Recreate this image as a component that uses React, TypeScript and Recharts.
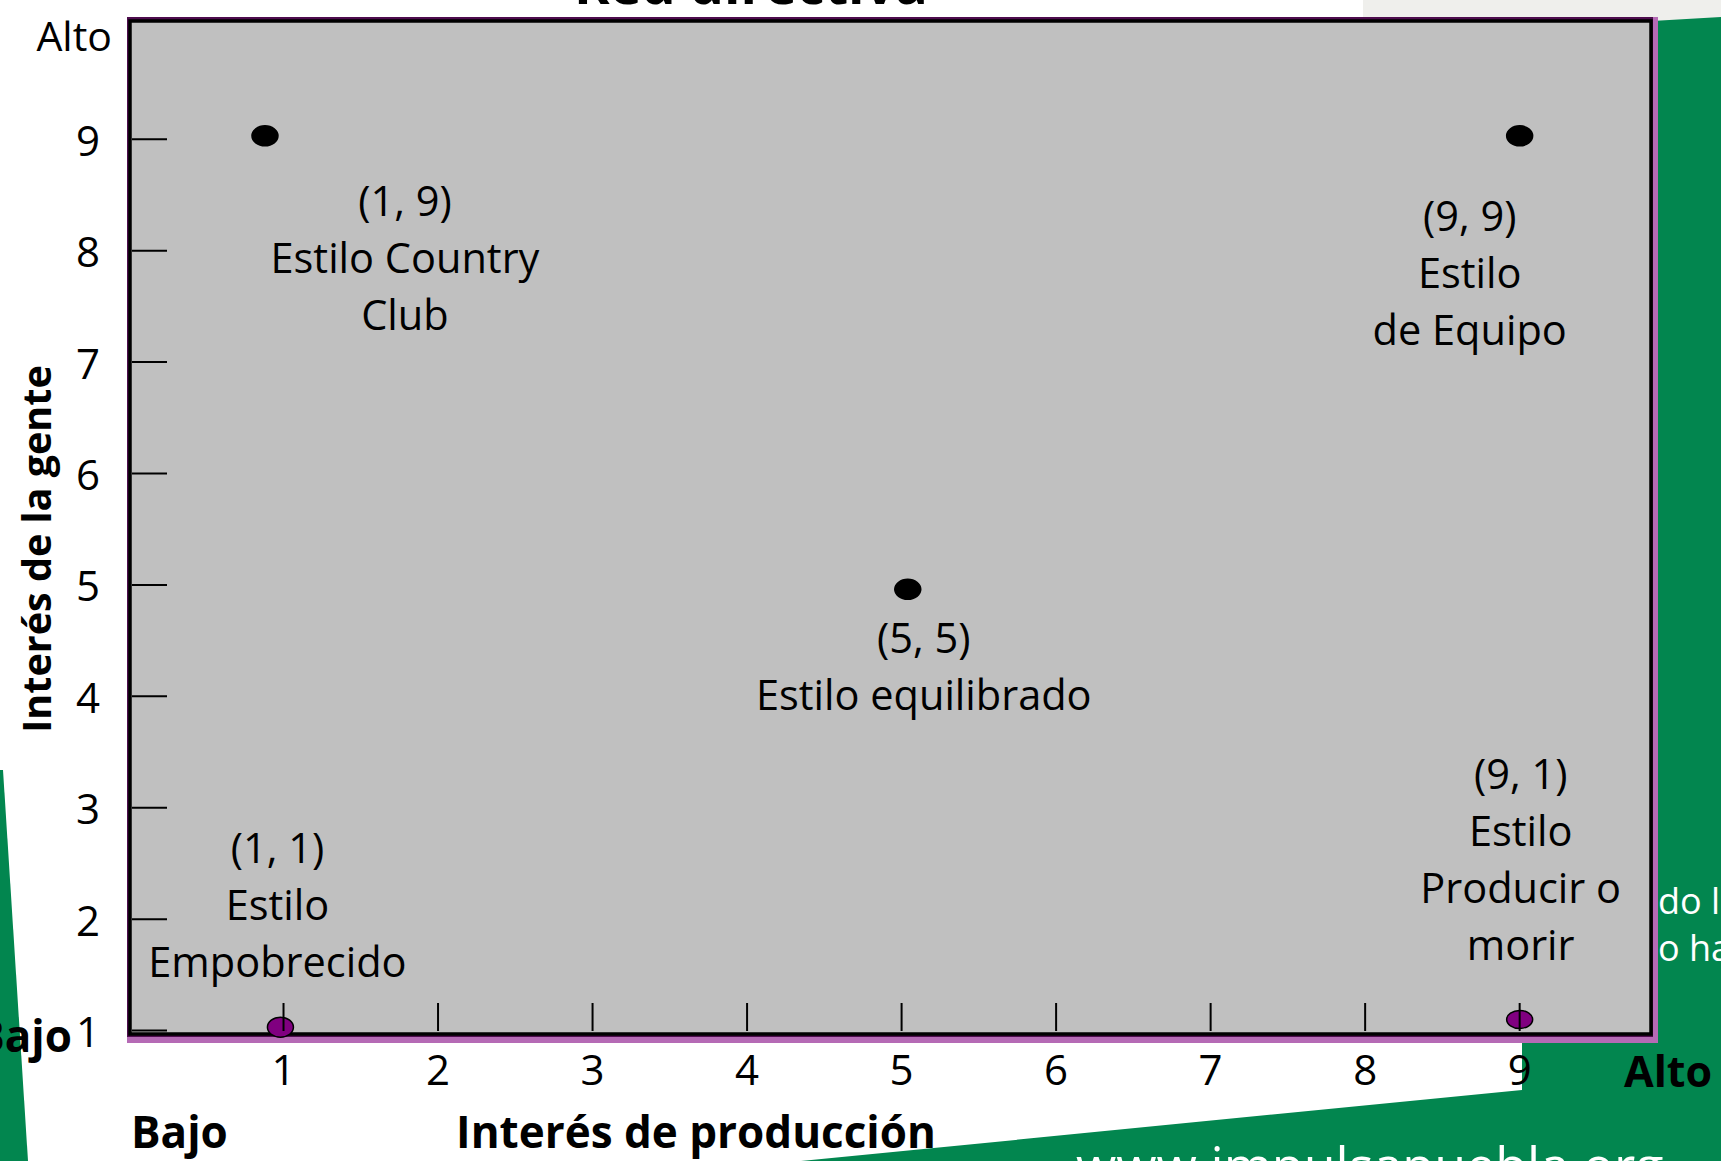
import React from 'react';
import { ScatterChart, Scatter, XAxis, YAxis } from 'recharts';

// estilos de la rejilla gerencial
const estilos = ['Country Club', 'Equipo', 'Equilibrado', 'Empobrecido', 'Producir o morir'];
const interesProduccion = [0.88, 9.0, 5.04, 0.98, 9.0];
const interesGente = [9.03, 9.03, 4.96, 1.03, 1.1];
const etiquetas = [
  ['(1, 9)', 'Estilo Country', 'Club'],
  ['(9, 9)', 'Estilo', 'de Equipo'],
  ['(5, 5)', 'Estilo equilibrado'],
  ['(1, 1)', 'Estilo', 'Empobrecido'],
  ['(9, 1)', 'Estilo', 'Producir o', 'morir'],
];

const xTicks = [1, 2, 3, 4, 5, 6, 7, 8, 9];
const yTicks = [1, 2, 3, 4, 5, 6, 7, 8, 9, 10];
const yTickLabels = ['1', '2', '3', '4', '5', '6', '7', '8', '9', 'Alto'];

// estilo / posicion de etiquetas (no son datos)
const pointFill = ['#000', '#000', '#000', '#800080', '#800080'];
const pointRy = [10, 10, 10, 10, 9];
const labelOffset: Record<string, [number, number]> = {
  'Country Club': [140, 64],
  Equipo: [-50, 79],
  Equilibrado: [16, 48],
  Empobrecido: [-3, -180],
  'Producir o morir': [1, -246],
};

const FONT = "'Open Sans', 'DejaVu Sans', sans-serif";
const GREEN = '#02864f';

const data = estilos.map((name, i) => ({
  name,
  x: interesProduccion[i],
  y: interesGente[i],
  lines: etiquetas[i],
  idx: i,
}));

const PointShape = (props: any) => {
  const { cx, cy, payload } = props;
  const i = payload.idx;
  const [dx, dy] = labelOffset[payload.name];
  return (
    <g>
      <ellipse cx={cx} cy={cy} rx={13} ry={pointRy[i]} fill={pointFill[i]} stroke="#000" strokeWidth={1.5} />
      {payload.lines.map((t: string, k: number) => (
        <text
          key={k}
          x={cx + dx}
          y={cy + dy + k * 57}
          textAnchor="middle"
          dominantBaseline="central"
          fontFamily={FONT}
          fontSize={41.5}
          fill="#000"
        >
          {t}
        </text>
      ))}
    </g>
  );
};

const XTick = (props: any) => {
  const { x, y, payload } = props;
  return (
    <g>
      <line x1={x} x2={x} y1={y - 32} y2={y - 4} stroke="#000" strokeWidth={2} />
      <text x={x} y={y + 33} textAnchor="middle" dominantBaseline="central" fontFamily={FONT} fontSize={42} fill="#000">
        {payload.value}
      </text>
    </g>
  );
};

const YTick = (props: any) => {
  const { x, y, payload } = props;
  const i = yTicks.indexOf(payload.value);
  const isAlto = payload.value === 10;
  return (
    <g>
      {!isAlto && <line x1={x + 3} x2={x + 38} y1={y} y2={y} stroke="#000" strokeWidth={2} />}
      <text
        x={isAlto ? x - 17 : x - 29}
        y={isAlto ? y + 7 : y}
        textAnchor="end"
        dominantBaseline="central"
        fontFamily={FONT}
        fontSize={isAlto ? 41 : 42}
        fill="#000"
      >
        {yTickLabels[i]}
      </text>
    </g>
  );
};

export default function App() {
  const W = 1721;
  const H = 1161;
  return (
    <div style={{ position: 'absolute', left: 0, top: 0, width: W, height: H, overflow: 'hidden', background: '#fff' }}>
      {/* fondo de la diapositiva */}
      <svg width={W} height={H} style={{ position: 'absolute', left: 0, top: 0 }}>
        <rect x={1363} y={0} width={358} height={24} fill="#efefec" />
        <polygon points="1652,21 1721,17 1721,1161 801,1161 1522,1090 1522,1043 1652,1043" fill={GREEN} />
        <polygon points="0,770 3,770 28,1161 0,1161" fill={GREEN} />
        <rect x={127} y={17} width={1531} height={1026} fill="#b56ab5" />
        <rect x={127} y={17} width={1526} height={1020} fill="#4e0d4e" />
        <rect x={130} y={21} width={1521} height={1013} fill="#c0c0c0" stroke="#000" strokeWidth={3.5} />
      </svg>

      <div style={{ position: 'absolute', left: 0, top: 0 }}>
        <ScatterChart width={W} height={H} margin={{ top: 20, right: 70, bottom: 0, left: 0 }}>
          <XAxis
            type="number"
            dataKey="x"
            domain={[0, 9.85]}
            ticks={xTicks}
            interval={0}
            height={126}
            axisLine={false}
            tickLine={false}
            tickSize={0}
            tickMargin={0}
            tick={<XTick />}
          />
          <YAxis
            type="number"
            dataKey="y"
            domain={[0.96, 10.07]}
            ticks={yTicks}
            interval={0}
            width={129}
            axisLine={false}
            tickLine={false}
            tickSize={0}
            tickMargin={0}
            tick={<YTick />}
          />
          <Scatter data={data} shape={<PointShape />} isAnimationActive={false} />
        </ScatterChart>
      </div>

      {/* titulos y textos del fondo */}
      <svg width={W} height={H} style={{ position: 'absolute', left: 0, top: 0, pointerEvents: 'none' }}>
        <text x={751} y={4} textAnchor="middle" fontFamily={FONT} fontWeight="bold" fontSize={54} fill="#000">
          Red directiva
        </text>
        <text
          x={36}
          y={549}
          transform="rotate(-90 36 549)"
          textAnchor="middle"
          dominantBaseline="central"
          fontFamily={FONT}
          fontWeight="bold"
          fontSize={39.5}
          fill="#000"
        >
          Interés de la gente
        </text>
        <text x={72} y={1035} textAnchor="end" dominantBaseline="central" fontFamily={FONT} fontWeight="bold" fontSize={44} fill="#000">
          Bajo
        </text>
        <text x={131} y={1131} dominantBaseline="central" fontFamily={FONT} fontWeight="bold" fontSize={44} fill="#000">
          Bajo
        </text>
        <text x={696} y={1131} textAnchor="middle" dominantBaseline="central" fontFamily={FONT} fontWeight="bold" fontSize={44} fill="#000">
          Interés de producción
        </text>
        <text x={1624} y={1070} dominantBaseline="central" fontFamily={FONT} fontWeight="bold" fontSize={43} fill="#000">
          Alto
        </text>
        <text x={1658} y={900} dominantBaseline="central" fontFamily={FONT} fontSize={36} fill="#fff">
          do le
        </text>
        <text x={1658} y={947} dominantBaseline="central" fontFamily={FONT} fontSize={36} fill="#fff">
          o ha
        </text>
        <text x={1076} y={1184} fontFamily={FONT} fontSize={52} fill="#fff">
          www.impulsapuebla.org
        </text>
      </svg>
    </div>
  );
}
